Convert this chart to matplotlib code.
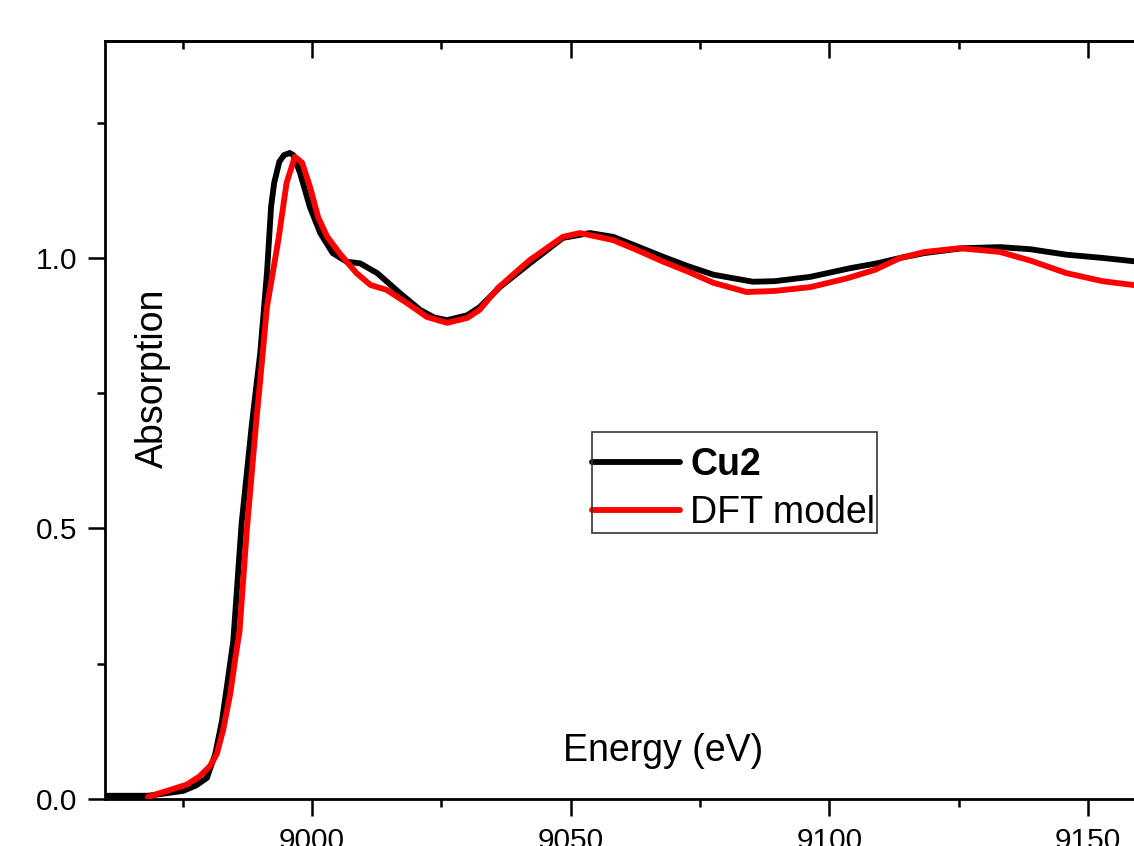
import matplotlib
matplotlib.use("Agg")
import matplotlib.pyplot as plt
from matplotlib.patches import Rectangle
from matplotlib.ticker import MultipleLocator

plt.rcParams["font.family"] = ["Liberation Sans", "DejaVu Sans"]

# ── Data ────────────────────────────────────────────────────────────────────
cu2_energy = [8960.0, 8968.3, 8975.1, 8977.6, 8979.7, 8981.3, 8982.6, 8983.8,
              8984.8, 8986.4, 8988.4, 8990.0, 8991.3, 8992.1, 8992.7, 8993.7,
              8994.6, 8995.7, 8996.4, 8997.7, 8999.6, 9001.6, 9004.0, 9006.7,
              9009.3, 9012.6, 9017.0, 9020.9, 9023.6, 9026.1, 9030.0, 9032.4,
              9036.3, 9042.1, 9048.5, 9053.7, 9058.2, 9062.7, 9067.9, 9072.6,
              9077.6, 9085.2, 9089.4, 9096.3, 9104.0, 9109.2, 9113.7, 9118.4,
              9125.8, 9133.0, 9138.9, 9145.8, 9152.8, 9158.7, 9164.0]
cu2_abs = [0.006, 0.006, 0.015, 0.025, 0.039, 0.083, 0.144, 0.224,
           0.293, 0.509, 0.694, 0.824, 0.972, 1.095, 1.139, 1.178,
           1.190, 1.194, 1.190, 1.157, 1.094, 1.046, 1.009, 0.993,
           0.990, 0.972, 0.935, 0.904, 0.890, 0.885, 0.894, 0.909,
           0.946, 0.990, 1.037, 1.046, 1.039, 1.022, 1.002, 0.985,
           0.969, 0.956, 0.957, 0.965, 0.981, 0.990, 1.000, 1.009,
           1.018, 1.020, 1.016, 1.006, 1.000, 0.994, 0.990]

dft_energy = [8968.3, 8972.0, 8975.9, 8978.3, 8980.3, 8981.6, 8982.8, 8984.2,
              8985.2, 8986.0, 8987.4, 8989.2, 8990.0, 8991.3, 8993.5, 8995.1,
              8996.7, 8998.1, 8999.6, 9001.2, 9002.9, 9005.3, 9008.6, 9011.3,
              9014.4, 9018.3, 9022.2, 9026.1, 9030.0, 9032.4, 9036.0, 9042.1,
              9048.5, 9051.8, 9058.2, 9062.7, 9067.9, 9072.6, 9077.6, 9084.0,
              9089.4, 9096.3, 9103.3, 9108.8, 9113.7, 9118.4, 9125.2, 9133.0,
              9138.9, 9145.8, 9152.8, 9158.7, 9164.0]
dft_abs = [0.004, 0.015, 0.027, 0.042, 0.061, 0.083, 0.126, 0.194,
           0.261, 0.310, 0.496, 0.694, 0.774, 0.909, 1.033, 1.139,
           1.187, 1.176, 1.132, 1.075, 1.040, 1.009, 0.972, 0.950,
           0.941, 0.917, 0.891, 0.880, 0.889, 0.904, 0.945, 0.996,
           1.039, 1.046, 1.033, 1.015, 0.993, 0.975, 0.954, 0.937,
           0.939, 0.946, 0.962, 0.978, 1.000, 1.011, 1.018, 1.011,
           0.995, 0.972, 0.957, 0.950, 0.947]

# ── Figure ──────────────────────────────────────────────────────────────────
W, H = 1134, 846
fig = plt.figure(figsize=(W / 100, H / 100), dpi=100)
fig.patch.set_facecolor("white")

# axes box in pixels; it runs past the right edge, as in the cropped original
left_px, right_px, top_px, bot_px = 105, 1160, 41.5, 799
ax = fig.add_axes([left_px / W, 1 - bot_px / H,
                   (right_px - left_px) / W, (bot_px - top_px) / H])

ax.plot(cu2_energy, cu2_abs, color="black", lw=4.2, label="Cu2",
        solid_joinstyle="round", solid_capstyle="round", zorder=3)
ax.plot(dft_energy, dft_abs, color="#ff0000", lw=4.2, label="DFT model",
        solid_joinstyle="round", solid_capstyle="round", zorder=4)

ax.set_xlim(8960.0, 9163.9)
ax.set_ylim(0, 1.400)

ax.xaxis.set_major_locator(MultipleLocator(50))
ax.xaxis.set_minor_locator(MultipleLocator(25))
ax.yaxis.set_major_locator(MultipleLocator(0.5))
ax.yaxis.set_minor_locator(MultipleLocator(0.25))
ax.yaxis.set_major_formatter(plt.FormatStrFormatter("%.1f"))

for s in ax.spines.values():
    s.set_linewidth(2.0)

ax.tick_params(which="major", direction="out", length=12, width=1.8,
               labelsize=21.5, pad=8)
ax.tick_params(which="minor", direction="out", length=6, width=1.8)

# mirrored top ticks, pointing inward
top = ax.secondary_xaxis("top")
top.xaxis.set_major_locator(MultipleLocator(50))
top.xaxis.set_minor_locator(MultipleLocator(25))
top.tick_params(which="major", direction="in", length=12, width=1.8, labeltop=False)
top.tick_params(which="minor", direction="in", length=6, width=1.8)
top.spines["top"].set_linewidth(2.0)

# axis titles sit inside the plot area in the original
fig.text(663 / W, 1 - 751 / H, "Energy (eV)", fontsize=27,
         ha="center", va="center")
fig.text(153 / W, 1 - 378 / H, "Absorption", fontsize=27, rotation=90,
         ha="center", va="center")

# legend: frameless, with a plain box drawn around it
leg = ax.legend(loc="upper left", bbox_to_anchor=(592 / W, 1 - 447 / H),
                bbox_transform=fig.transFigure, borderaxespad=0,
                fontsize=27, frameon=False, borderpad=0,
                handlelength=2.35, handletextpad=0.27, labelspacing=0.33)
leg.get_texts()[0].set_fontweight("bold")
for ln in leg.get_lines():
    ln.set_linewidth(4.2)
fig.patches.append(Rectangle((592 / W, 1 - 533 / H), (877 - 592) / W,
                             (533 - 432) / H, transform=fig.transFigure,
                             fill=False, edgecolor="#333333", lw=1.2))

fig.savefig("out.png", dpi=100)
